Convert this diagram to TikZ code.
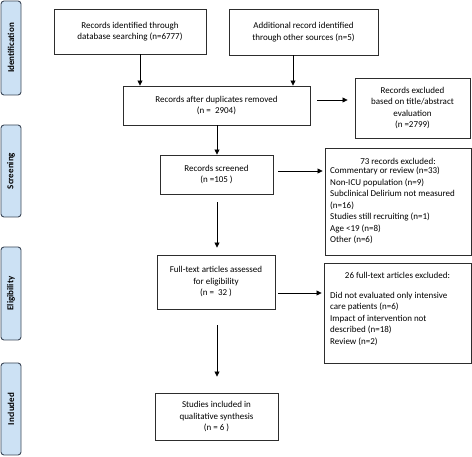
\documentclass[tikz,border=0pt]{standalone}
\usepackage{fontspec}
\setmainfont{Carlito}
\usetikzlibrary{arrows.meta}
\definecolor{lblue}{RGB}{204,225,244}
\definecolor{lborder}{RGB}{60,72,88}
\definecolor{boxline}{RGB}{45,45,45}
\begin{document}
\begin{tikzpicture}[x=1pt,y=-1pt,
  every node/.style={font=\fontsize{9}{11.5}\selectfont, text=black},
  box/.style={draw=boxline, line width=0.9pt, inner sep=2pt, align=center},
  phase/.style={draw=lborder, line width=0.9pt, fill=lblue, rounded corners=3pt,
     minimum width=20pt, inner sep=0pt},
  phasetxt/.style={rotate=90, font=\fontsize{9}{11}\selectfont\bfseries, text=black},
  arr/.style={draw=black, line width=0.8pt, -{Triangle[length=5pt,width=5pt]}},
  txt/.style={inner sep=0pt, align=left}
]
\useasboundingbox (0,0) rectangle (472,457);

% phase labels
\node[phase, minimum height=94pt] (pid) at (11,48) {};
\node[phasetxt] (tid) at (pid.center) {Identification};
\node[phase, minimum height=92pt] (psc) at (11,171) {};
\node[phasetxt] (tsc) at (psc.center) {Screening};
\node[phase, minimum height=93pt] (pel) at (11,293.5) {};
\node[phasetxt] (tel) at (pel.center) {Eligibility};
\node[phase, minimum height=92pt] (pin) at (11,409) {};
\node[phasetxt] (tin) at (pin.center) {Included};

% boxes
\node[box, minimum width=152pt, minimum height=45pt] (id1) at (130,31.5)
  {Records identified through\\database searching (n=6777)};
\node[box, minimum width=149pt, minimum height=46pt] (id2) at (303.5,32)
  {Additional record identified\\through other sources (n=5)};
\node[box, minimum width=187pt, minimum height=39pt] (dup) at (216.5,105.5)
  {Records after duplicates removed\\(n =\ \ 2904)};
\node[box, minimum width=115pt, minimum height=60pt] (exa) at (412.5,108)
  {Records excluded\\based on title/abstract\\evaluation\\(n =2799)};
\node[box, minimum width=113pt, minimum height=39pt] (scr) at (216.5,174.5)
  {Records screened\\(n =105 )};
\node[box, minimum width=146pt, minimum height=107pt] (exb) at (398,201.5) {};
\node[txt, anchor=center] (exbt) at (398,161) {73 records excluded:};
\node[txt, anchor=north west] (exbl) at (330,167)
  {Commentary or review (n=33)\\Non-ICU population (n=9)\\Subclinical Delirium not measured\\(n=16)\\Studies still recruiting (n=1)\\Age <19 (n=8)\\Other (n=6)};
\node[box, minimum width=118pt, minimum height=54pt] (ft) at (216,282)
  {Full-text articles assessed\\for eligibility\\(n =\ \ 32 )};
\node[box, minimum width=147pt, minimum height=100pt] (exc) at (397.5,313) {};
\node[txt, anchor=center] (exct) at (397.5,275) {26 full-text articles excluded:};
\node[txt, anchor=north west] (excl) at (330,292)
  {Did not evaluated only intensive\\care patients (n=6)\\Impact of intervention not\\described (n=18)\\Review (n=2)};
\node[box, minimum width=123pt, minimum height=47pt] (st) at (216.5,416.5)
  {Studies included in\\qualitative synthesis\\(n = 6 )};

% arrow guides
\coordinate (ca) at (140,0);
\coordinate (cb) at (293,0);
\coordinate (cc) at (0,100);
\coordinate (cd) at (217,0);
\coordinate (ce) at (0,171);
\coordinate (cf) at (0,293);

\draw[arr] (id1.south -| ca) -- (dup.north -| ca);
\draw[arr] (id2.south -| cb) -- (dup.north -| cb);
\draw[arr, shorten <=7pt, shorten >=7pt] (dup.east |- cc) -- (exa.west |- cc);
\draw[arr] (dup.south -| cd) -- (scr.north -| cd);
\draw[arr, shorten <=5pt, shorten >=2pt] (scr.east |- ce) -- (exb.west |- ce);
\draw[arr, shorten <=8pt, shorten >=7pt] (scr.south -| cd) -- (ft.north -| cd);
\draw[arr, shorten <=3pt, shorten >=2pt] (ft.east |- cf) -- (exc.west |- cf);
\draw[arr, shorten <=16pt, shorten >=16pt] (ft.south -| cd) -- (st.north -| cd);
\end{tikzpicture}
\end{document}
